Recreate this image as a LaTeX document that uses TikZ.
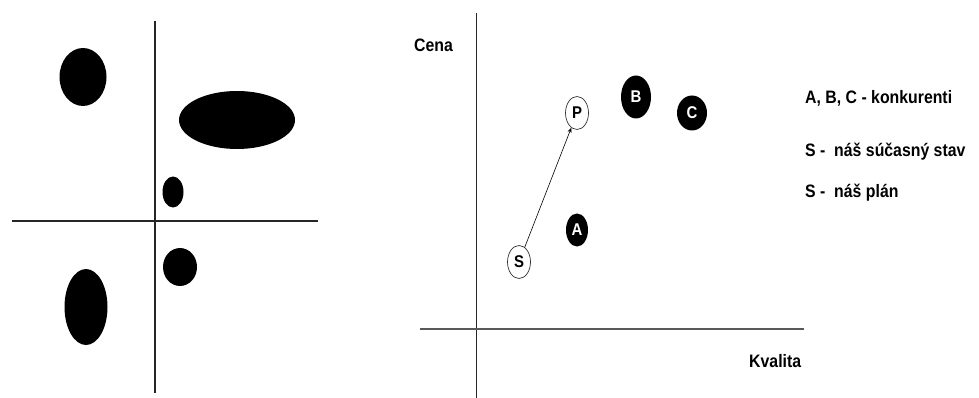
\documentclass[tikz,border=0pt]{standalone}
\usepackage{fontspec}
\setmainfont{Liberation Sans}[FakeStretch=0.88]
\usetikzlibrary{shapes.geometric,arrows.meta}
\begin{document}
\begin{tikzpicture}[x=1pt,y=-1pt,
  axis/.style={line width=1.2pt,draw=black!85},
  blob/.style={fill=black},
  comp/.style={ellipse,fill=black,text=white,inner sep=0pt,font=\bfseries\fontsize{17}{17}\selectfont},
  own/.style={ellipse,draw=black!80,line width=0.7pt,fill=white,inner sep=0pt,font=\bfseries\fontsize{17}{17}\selectfont},
  lbl/.style={anchor=west,inner sep=0pt,font=\bfseries\fontsize{18}{18}\selectfont}]
\useasboundingbox (0,0) rectangle (979,398);
% left panel
\coordinate (lt) at (155,21); \coordinate (lb) at (155,393);
\coordinate (ll) at (12,221); \coordinate (lr) at (318,221);
\draw[axis] (lt) -- (lb);
\draw[axis,line width=1.6pt] (ll) -- (lr);
\fill[blob] (83,77) ellipse [x radius=23.5, y radius=29];
\fill[blob] (237,120) ellipse [x radius=58, y radius=29];
\fill[blob] (173,192) ellipse [x radius=10.5, y radius=15.5];
\fill[blob] (180,267) ellipse [x radius=17, y radius=19];
\fill[blob] (86,307) ellipse [x radius=21.5, y radius=38];
% right panel
\coordinate (rt) at (476,13); \coordinate (rb) at (476,398);
\coordinate (rl) at (420,329); \coordinate (rr) at (804,329);
\draw[axis,line width=1pt] (rt) -- (rb);
\draw[axis,line width=2pt,draw=black!65] (rl) -- (rr);
\node[lbl] (cena) at (414,45) {Cena};
\node[lbl] (kval) at (749,361) {Kvalita};
\node[own,minimum width=23pt,minimum height=33pt] (P) at (577,113) {P};
\node[own,minimum width=23pt,minimum height=33pt] (S) at (519,262) {S};
\node[comp,minimum width=22pt,minimum height=33pt] (A) at (577,230) {A};
\node[comp,minimum width=30pt,minimum height=43pt] (B) at (636,97) {B};
\node[comp,minimum width=30pt,minimum height=35pt] (C) at (692,113) {C};
\draw[line width=0.6pt,-{Stealth[length=5pt,width=4pt]}] (S) -- (P);
% legend
\node[lbl] (l1) at (805,98) {A, B, C - konkurenti};
\node[lbl] (l2) at (805,152) {S -\ \ náš súčasný stav};
\node[lbl] (l3) at (805,193) {S -\ \ náš plán};
\end{tikzpicture}
\end{document}
